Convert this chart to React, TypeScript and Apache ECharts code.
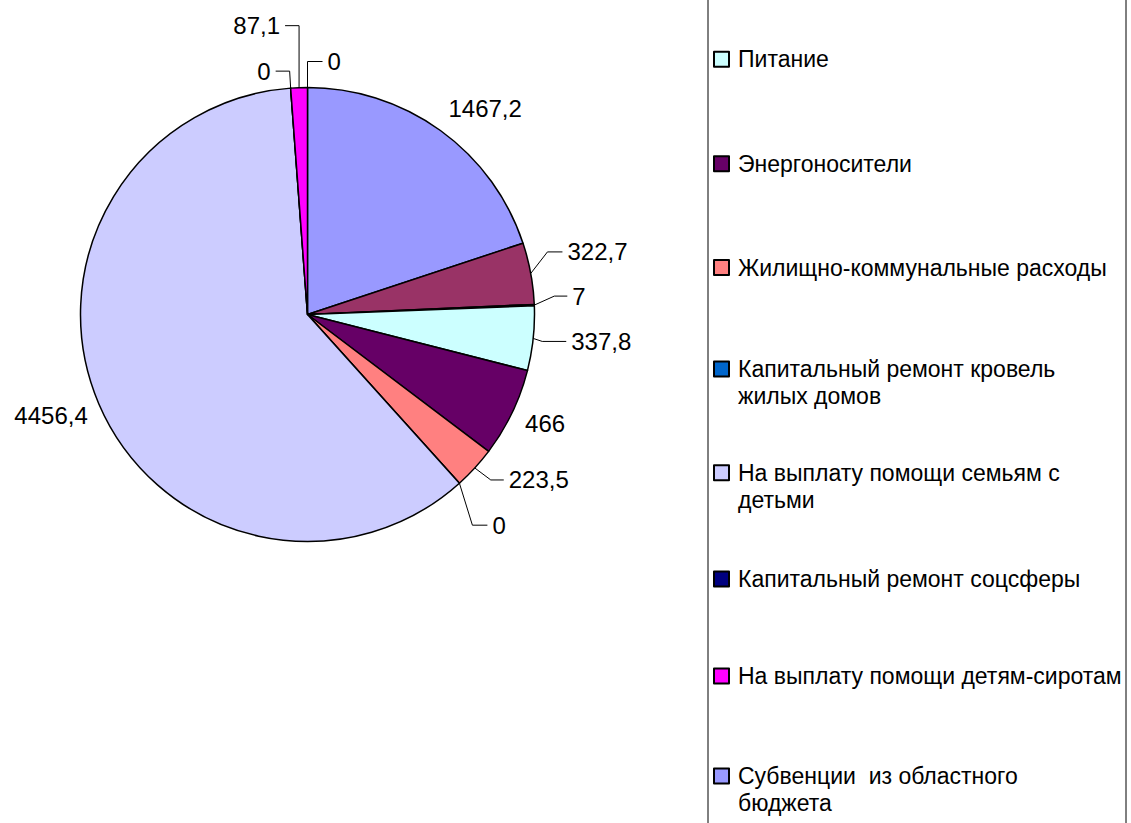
import React, { useEffect, useRef } from 'react';
import * as echarts from 'echarts';

// ---- data (clockwise from 12 o'clock) ----
const CATEGORIES = [
  'Прочие (1)',
  'Субвенции  из областного бюджета',
  'Прочие (2)',
  'Прочие (3)',
  'Питание',
  'Энергоносители',
  'Жилищно-коммунальные расходы',
  'Капитальный ремонт кровель жилых домов',
  'На выплату помощи семьям с детьми',
  'Капитальный ремонт соцсферы',
  'На выплату помощи детям-сиротам',
];
const VALUES = [0, 1467.2, 322.7, 7, 337.8, 466, 223.5, 0, 4456.4, 0, 87.1];
const COLORS = [
  '#FFFF00', '#9999FF', '#993366', '#FFFFCC', '#CCFFFF', '#660066',
  '#FF8080', '#0066CC', '#CCCCFF', '#000080', '#FF00FF',
];
const LEGEND_ITEMS = [
  'Питание',
  'Энергоносители',
  'Жилищно-коммунальные расходы',
  'Капитальный ремонт кровель жилых домов',
  'На выплату помощи семьям с детьми',
  'Капитальный ремонт соцсферы',
  'На выплату помощи детям-сиротам',
  'Субвенции  из областного бюджета',
];
const LEGEND_TEXT = [
  'Питание',
  'Энергоносители',
  'Жилищно-коммунальные расходы',
  'Капитальный ремонт кровель\nжилых домов',
  'На выплату помощи семьям с\nдетьми',
  'Капитальный ремонт соцсферы',
  'На выплату помощи детям-сиротам',
  'Субвенции  из областного\nбюджета',
];

// ---- layout / style ----
const CX = 307.5;
const CY = 314.5;
const R = 227;
const FONT = 'Liberation Sans, Arial, sans-serif';
const LEGEND_Y = [59.2, 163.7, 267.5, 369, 472.7, 579, 676, 776];
const LEGEND_LINE = 27;
const SW = 15;
// leader guides per slice: line = first segment vector, h = horizontal segment; off = label offset (no line)
const LABEL_GUIDES: any[] = [
  { line: [0, -26], h: 15 },
  { off: [8, -22] },
  { line: [16.7, -21.5], h: 15 },
  { line: [20, -9], h: 13 },
  { line: [9, 3], h: 24 },
  { off: [13, 11] },
  { line: [16, 12], h: 13 },
  { line: [13, 42], h: 15 },
  { off: [-11, 12] },
  { line: [-1, -17], h: -14 },
  { line: [0, -62], h: -14 },
];

export default function App() {
  const ref = useRef<HTMLDivElement>(null);
  useEffect(() => {
    if (!ref.current) return;
    const chart = echarts.init(ref.current, undefined, { renderer: 'svg' });
    const total = VALUES.reduce((a, b) => a + b, 0);
    const mids: number[] = [];
    let cum = 0;
    VALUES.forEach((v) => {
      mids.push(((cum + v / 2) / total) * Math.PI * 2);
      cum += v;
    });

    const data = CATEGORIES.map((name, i) => ({
      name,
      value: VALUES[i],
      itemStyle: { color: COLORS[i] },
      labelLine: { show: !LABEL_GUIDES[i].off },
    }));

    const legends = LEGEND_ITEMS.map((name, i) => {
      const lines = LEGEND_TEXT[i].split('\n').length;
      const h = SW + (lines - 1) * LEGEND_LINE;
      // square swatch at the top of a taller box so it lines up with the first text line
      const icon =
        lines > 1 ? `path://M0,0L${SW},0L${SW},${SW}L0,${SW}Z M0,${h}L0,${h}` : 'rect';
      return {
        data: [{ name, icon }],
        orient: 'vertical',
        left: 713,
        top: LEGEND_Y[i] - SW / 2 - (LEGEND_LINE / 2 - SW / 2),
        padding: 0,
        itemGap: 0,
        itemWidth: SW,
        itemHeight: h,
        selectedMode: false,
        formatter: () => LEGEND_TEXT[i],
        textStyle: {
          fontSize: 23,
          lineHeight: LEGEND_LINE,
          color: '#000',
          fontFamily: FONT,
          padding: [0, 0, 0, 4],
        },
      };
    });

    chart.setOption({
      animation: false,
      backgroundColor: '#fff',
      textStyle: { fontFamily: FONT },
      legend: legends,
      graphic: [
        {
          type: 'rect',
          shape: { x: 708, y: -5, width: 418, height: 840 },
          style: { fill: 'none', stroke: '#000', lineWidth: 1 },
          silent: true,
        },
      ],
      series: [
        {
          type: 'pie',
          center: [CX, CY],
          radius: R,
          startAngle: 90,
          clockwise: true,
          avoidLabelOverlap: false,
          emphasis: { disabled: true },
          silent: true,
          itemStyle: { borderColor: '#000', borderWidth: 1.5 },
          label: {
            show: true,
            position: 'outside',
            color: '#000',
            fontSize: 24,
            fontFamily: FONT,
            formatter: (p: any) => String(p.value).replace('.', ','),
          },
          labelLine: {
            show: true,
            length: 10,
            length2: 10,
            lineStyle: { color: '#000', width: 1 },
          },
          labelLayout: (params: any) => {
            const i = params.dataIndex;
            const g = LABEL_GUIDES[i];
            const a = mids[i];
            const ax = CX + R * Math.sin(a);
            const ay = CY - R * Math.cos(a);
            if (g.off) {
              return {
                x: ax + g.off[0],
                y: ay + g.off[1],
                align: g.off[0] >= 0 ? 'left' : 'right',
                verticalAlign: 'middle',
              };
            }
            const p2 = [ax + g.line[0], ay + g.line[1]];
            const p3 = [p2[0] + g.h, p2[1]];
            return {
              x: p3[0] + (g.h >= 0 ? 5 : -5),
              y: p3[1],
              align: g.h >= 0 ? 'left' : 'right',
              verticalAlign: 'middle',
              labelLinePoints: [[ax, ay], p2, p3],
            };
          },
          data,
        },
      ],
    });
    return () => chart.dispose();
  }, []);
  return (
    <div
      ref={ref}
      style={{ position: 'fixed', left: 0, top: 0, width: 1131, height: 823, background: '#fff' }}
    />
  );
}
